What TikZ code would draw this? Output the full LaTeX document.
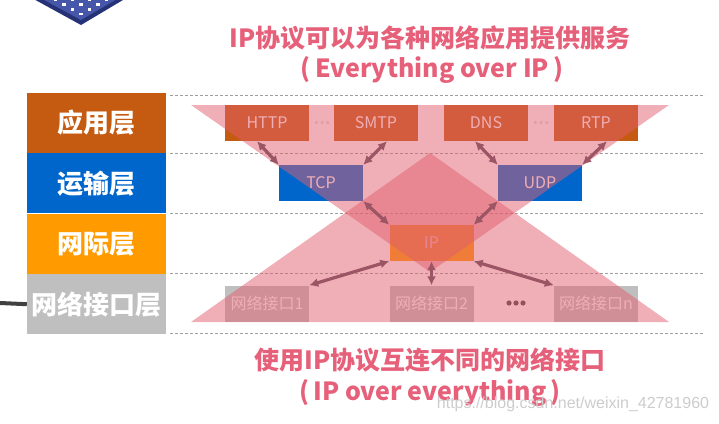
\documentclass[tikz,border=0pt]{standalone}
\usepackage{fontspec}
\setmainfont{Noto Sans CJK SC}
\newfontfamily\markfont{Liberation Sans}
\usetikzlibrary{arrows.meta,
                positioning}

\definecolor{titlepink}{RGB}{230,96,122}
\definecolor{veilpink}{RGB}{225,95,110}
\definecolor{appbrown}{RGB}{197,90,17}
\definecolor{transblue}{RGB}{0,102,204}
\definecolor{netorange}{RGB}{255,155,0}
\definecolor{linkgray}{RGB}{191,191,191}
\definecolor{arrowmauve}{RGB}{155,85,100}
\definecolor{chipblue}{RGB}{70,86,168}
\definecolor{chipnavy}{RGB}{38,50,118}

\tikzset{layer/.style=
   {rectangle,
    text=white,
    font=\bfseries\fontsize{26}{26}\selectfont,
    minimum width=139pt,
    minimum height=60pt,
    inner sep=0pt}}
\tikzset{proto/.style=
   {rectangle,
    text=white,
    font=\fontsize{16}{16}\selectfont,
    minimum width=84pt,
    minimum height=36pt,
    inner sep=0pt}}
\tikzset{headline/.style={text=titlepink, font=\bfseries\fontsize{25}{25}\selectfont}}
\tikzset{arrow/.style = {draw, arrowmauve, line width=3.2pt,
    {Latex[length=9pt,width=9pt]}-{Latex[length=9pt,width=9pt]}}}
\tikzset{guide/.style = {draw, gray!75, line width=0.7pt, dash pattern=on 3pt off 2pt}}
\tikzset{veil/.style = {fill=veilpink, fill opacity=0.5}}

\begin{document}
\begin{tikzpicture}[x=1pt, y=-1pt]

    \useasboundingbox (0,0) rectangle (719,423);

    % Chip picture (cut by the top edge)
    \fill [chipnavy] (81,25) -- (30,-3) -- (128,-3) -- cycle;
    \fill [chipblue] (81,20) -- (35,-5) -- (124,-5) -- cycle;
    \foreach \i in {1,...,6}
      \foreach \j in {1,...,6}
        \fill [white] ({81+8.5*(\i-\j)-1.8},{14-4.7*(\i+\j-2)-1.2}) rectangle ++(3.6,2.4);

    % Layers
    \node [layer, fill=appbrown] (app) at (96.5,123) {应用层};
    \node [layer, fill=transblue, below=0pt of app] (trans) {运输层};
    \node [layer, fill=netorange, below=0pt of trans] (inet) {网际层};
    \node [layer, fill=linkgray, below=0pt of inet] (link) {网络接口层};

    \coordinate (stub) at (0,303);
    \draw [line width=4pt, gray!50!black] (stub) -- (link.west);

    % Guide lines
    \foreach \y in {95,153,213,273,333}
      \draw [guide] (170,\y) -- (705,\y);

    % Protocol blocks
    \node [proto, fill=appbrown] (http) at (267,123) {HTTP};
    \node [proto, fill=appbrown, right of=http, node distance=109pt] (smtp) {SMTP};
    \node [proto, fill=appbrown, right of=smtp, node distance=110pt] (dns) {DNS};
    \node [proto, fill=appbrown, right of=dns, node distance=110pt] (rtp) {RTP};
    \node [proto, fill=transblue] (tcp) at (321,183) {TCP};
    \node [proto, fill=transblue, right of=tcp, node distance=219pt] (udp) {UDP};
    \node [proto, fill=netorange] (ip) at (431.5,243) {IP};
    \node [proto, fill=linkgray] (if1) at (267,303.5) {网络接口1};
    \node [proto, fill=linkgray, right of=if1, node distance=164.5pt] (if2) {网络接口2};
    \node [proto, fill=linkgray, right of=if2, node distance=164.5pt] (ifn) {网络接口n};

    \node [text=gray!25, font=\bfseries\fontsize{15}{15}\selectfont] (dotsa) at (322,123) {…};
    \node [text=gray!25, font=\bfseries\fontsize{15}{15}\selectfont] (dotsb) at (541,123) {…};
    \foreach \k in {0,1,2}
      \fill [gray!55!black] ({509+7*\k},303) circle (2.6pt);

    % Two triangles
    \path [veil] (191,105) -- (669,105) -- (430,272) -- cycle;
    \path [veil] (430,153) -- (669,322) -- (191,322) -- cycle;

    % Draw edges
    \path [arrow] ([xshift=-10pt]http.south) -- (tcp.north west);
    \path [arrow] ([xshift=11pt]smtp.south) -- (tcp.north east);
    \path [arrow] ([xshift=-11pt]dns.south) -- (udp.north west);
    \path [arrow] ([xshift=11pt]rtp.south) -- (udp.north east);
    \path [arrow] (tcp.south east) -- (ip.north west);
    \path [arrow] (udp.south west) -- (ip.north east);
    \path [arrow] (ip.south west) -- (if1.north east);
    \path [arrow] (ip.south) -- (if2.north);
    \path [arrow] (ip.south east) -- (ifn.north west);

    % Titles
    \node [headline] (overtop) at (430,38) {IP协议可以为各种网络应用提供服务};
    \node [headline] (oversub) at (432,70) {(\,Everything over IP\,)};
    \node [headline] (undertop) at (430,360) {使用IP协议互连不同的网络接口};
    \node [headline] (undersub) at (430,393) {(\,IP over everything\,)};

    \node [text=gray!40, font=\markfont\fontsize{16}{16}\selectfont] (mark) at (573,404) {https://blog.csdn.net/weixin\_42781960};

\end{tikzpicture}
\end{document}
